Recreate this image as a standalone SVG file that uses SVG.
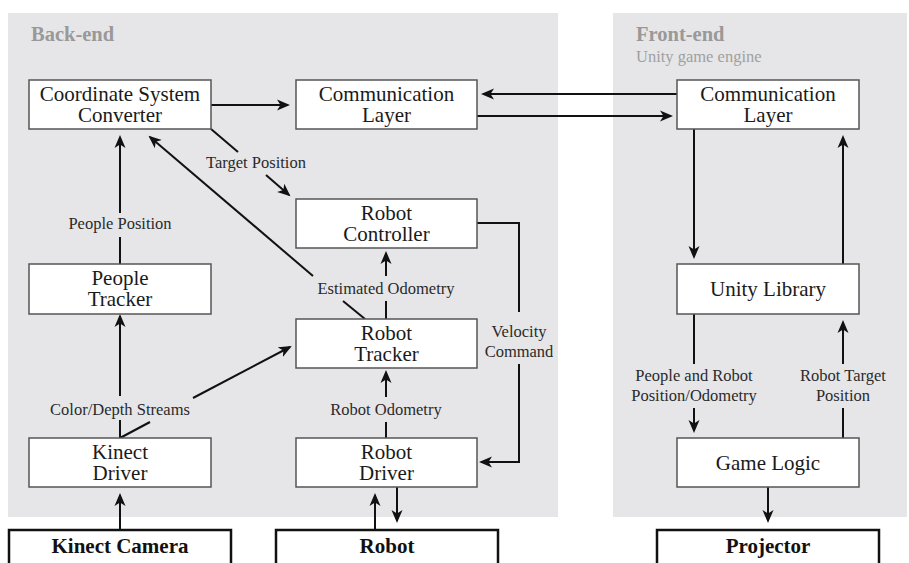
<svg xmlns="http://www.w3.org/2000/svg" width="909" height="563" viewBox="0 0 909 563">
<defs>
<marker id="ah" markerUnits="userSpaceOnUse" markerWidth="14" markerHeight="12" refX="11" refY="6" orient="auto">
<path d="M0,0.5 L13,6 L0,11.5 L3.5,6 z" fill="#111"/>
</marker>
</defs>
<style>
text{font-family:'Liberation Serif','Times New Roman',Times,'DejaVu Serif',serif}
.panel{fill:#e6e6e8}
.box{fill:#fff;stroke:#555;stroke-width:1.5}
.hw{fill:#fff;stroke:#111;stroke-width:2.5}
.t{font-size:21px;fill:#1a1a1a;text-anchor:middle}
.tb{font-size:21px;font-weight:bold;fill:#111;text-anchor:middle}
.lbl{font-size:16.5px;fill:#2a2a2a;text-anchor:middle}
.title{font-size:20.5px;font-weight:bold;fill:#999}
.sub{font-size:16.5px;fill:#a0a0a0}
.c{fill:none;stroke:#111;stroke-width:2}
.a{marker-end:url(#ah)}
</style>
<rect width="909" height="563" fill="#fff"/>
<g id="backend-panel">
<rect class="panel" x="8" y="13" width="550" height="504"/>
<text class="title" x="31" y="41">Back-end</text>
</g>
<g id="frontend-panel">
<rect class="panel" x="613" y="13" width="294" height="504"/>
<text class="title" x="636" y="41">Front-end</text>
<text class="sub" x="636" y="62">Unity game engine</text>
</g>
<g id="connectors">
<path class="c a" d="M211,105 L288,105"/>
<path class="c a" d="M677,94 L483,94"/>
<path class="c a" d="M477,116 L671,116"/>
<path class="c" d="M211,129 L238,152"/>
<path class="c a" d="M266,175 L289,195"/>
<path class="c" d="M120,264 L120,237"/>
<path class="c a" d="M120,213 L120,137"/>
<path class="c" d="M365,319 L343,301"/>
<path class="c a" d="M313,276 L150,137"/>
<path class="c" d="M386,319 L386,301"/>
<path class="c a" d="M386,276 L386,253"/>
<path class="c" d="M120,438 L120,420"/>
<path class="c a" d="M120,396 L120,316"/>
<path class="c" d="M120,438 L150,422"/>
<path class="c a" d="M193,398 L290,347"/>
<path class="c" d="M386,438 L386,422"/>
<path class="c a" d="M386,397 L386,372"/>
<path class="c" d="M477,223 L519,223 L519,312"/>
<path class="c a" d="M519,364 L519,462 L481,462"/>
<path class="c a" d="M375,530 L375,495"/>
<path class="c a" d="M397,487 L397,521"/>
<path class="c a" d="M120,530 L120,495"/>
<path class="c a" d="M694,129 L694,257"/>
<path class="c a" d="M843,264 L843,137"/>
<path class="c" d="M694,314 L694,364"/>
<path class="c a" d="M694,408 L694,431"/>
<path class="c" d="M843,438 L843,408"/>
<path class="c a" d="M843,364 L843,322"/>
<path class="c a" d="M768,487 L768,521"/>
</g>
<g id="labels">
<text class="lbl" x="256" y="168">Target Position</text>
<text class="lbl" x="120" y="229">People Position</text>
<text class="lbl" x="386" y="294">Estimated Odometry</text>
<text class="lbl" x="120" y="415">Color/Depth Streams</text>
<text class="lbl" x="386" y="415">Robot Odometry</text>
<text class="lbl" x="519" y="337">Velocity</text>
<text class="lbl" x="519" y="357">Command</text>
<text class="lbl" x="694" y="381">People and Robot</text>
<text class="lbl" x="694" y="401">Position/Odometry</text>
<text class="lbl" x="843" y="381">Robot Target</text>
<text class="lbl" x="843" y="401">Position</text>
</g>
<g id="csc">
<rect class="box" x="29" y="80" width="182" height="49"/>
<text class="t" x="120" y="101">Coordinate System</text>
<text class="t" x="120" y="122">Converter</text>
</g>
<g id="comm-back">
<rect class="box" x="296" y="80" width="181" height="49"/>
<text class="t" x="386.5" y="101">Communication</text>
<text class="t" x="386.5" y="122">Layer</text>
</g>
<g id="comm-front">
<rect class="box" x="677" y="80" width="182" height="49"/>
<text class="t" x="768" y="101">Communication</text>
<text class="t" x="768" y="122">Layer</text>
</g>
<g id="robot-controller">
<rect class="box" x="296" y="199" width="181" height="49"/>
<text class="t" x="386.5" y="220">Robot</text>
<text class="t" x="386.5" y="241">Controller</text>
</g>
<g id="people-tracker">
<rect class="box" x="29" y="264" width="182" height="50"/>
<text class="t" x="120" y="285">People</text>
<text class="t" x="120" y="306">Tracker</text>
</g>
<g id="robot-tracker">
<rect class="box" x="296" y="319" width="181" height="49"/>
<text class="t" x="386.5" y="340">Robot</text>
<text class="t" x="386.5" y="361">Tracker</text>
</g>
<g id="unity-library">
<rect class="box" x="677" y="264" width="182" height="50"/>
<text class="t" x="768" y="296">Unity Library</text>
</g>
<g id="kinect-driver">
<rect class="box" x="29" y="438" width="182" height="49"/>
<text class="t" x="120" y="459">Kinect</text>
<text class="t" x="120" y="480">Driver</text>
</g>
<g id="robot-driver">
<rect class="box" x="296" y="438" width="181" height="49"/>
<text class="t" x="386.5" y="459">Robot</text>
<text class="t" x="386.5" y="480">Driver</text>
</g>
<g id="game-logic">
<rect class="box" x="677" y="438" width="182" height="49"/>
<text class="t" x="768" y="470">Game Logic</text>
</g>
<g id="kinect-camera">
<rect class="hw" x="9" y="530" width="222" height="40"/>
<text class="tb" x="120" y="553">Kinect Camera</text>
</g>
<g id="robot">
<rect class="hw" x="276" y="530" width="222" height="40"/>
<text class="tb" x="387" y="553">Robot</text>
</g>
<g id="projector">
<rect class="hw" x="657" y="530" width="222" height="40"/>
<text class="tb" x="768" y="553">Projector</text>
</g>
</svg>
